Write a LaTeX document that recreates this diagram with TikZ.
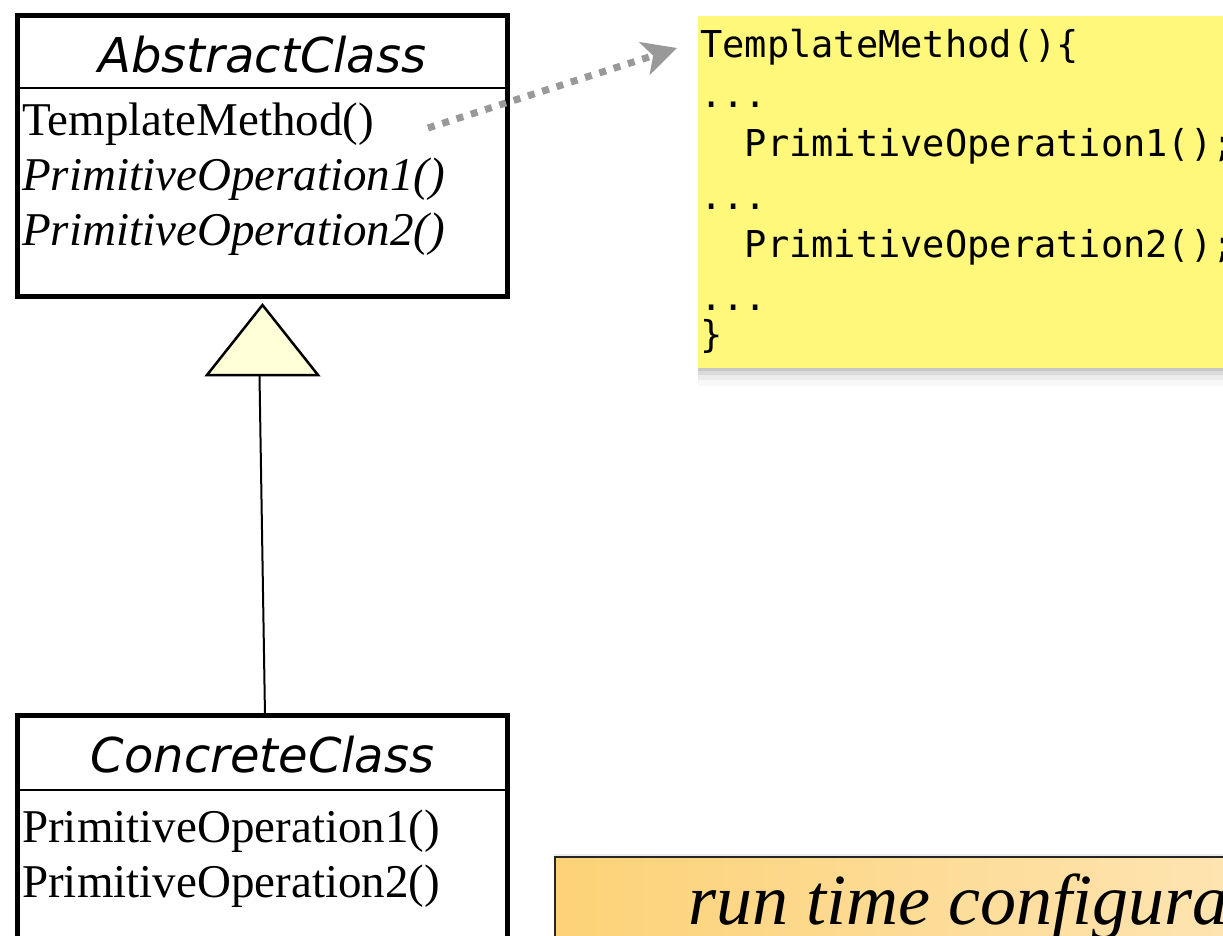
\documentclass[tikz,border=0pt]{standalone}
\usepackage{fontspec}
\setmainfont{Liberation Serif}
\newfontfamily\umlsans{DejaVu Sans}
\newfontfamily\umlmono{DejaVu Sans Mono}
\usetikzlibrary{arrows.meta,positioning,shadows}

\definecolor{noteyellow}{HTML}{FFF87A}
\definecolor{genyellow}{HTML}{FFFFD8}
\definecolor{callgray}{HTML}{999999}
\definecolor{bannerleft}{HTML}{FDD277}
\definecolor{bannerright}{HTML}{FEEAC4}

\newcommand{\codedots}{...}

\begin{document}
\begin{tikzpicture}[x=1pt,y=-1pt,
    class box/.style={draw,line width=5pt,inner sep=0pt,outer sep=0pt,minimum width=490pt,minimum height=281pt},
    class name/.style={font=\umlsans\itshape\fontsize{48}{48}\selectfont,inner sep=0pt},
    op/.style={font=\fontsize{47}{47}\selectfont,inner sep=0pt,anchor=base west},
    note/.style={fill=noteyellow,inner sep=0pt,outer sep=0pt,minimum width=600pt,minimum height=352pt,
        drop shadow={shadow xshift=0pt,shadow yshift=-3pt,opacity=.22},
        drop shadow={shadow xshift=0pt,shadow yshift=-7pt,opacity=.16},
        drop shadow={shadow xshift=0pt,shadow yshift=-12pt,opacity=.10},
        drop shadow={shadow xshift=0pt,shadow yshift=-18pt,opacity=.05}},
    codeline/.style={font=\umlmono\fontsize{37}{37}\selectfont,inner sep=0pt,anchor=base west},
    call/.style={callgray,line width=7pt,dash pattern=on 7pt off 8pt,-{Stealth[length=34pt,width=34pt,inset=9pt]}},
    generalization/.style={draw,line width=2.5pt,fill=genyellow,line join=miter},
    inherit/.style={draw,line width=2pt},
    banner/.style={draw=black!85,line width=2pt,left color=bannerleft,right color=bannerright,inner sep=0pt,outer sep=0pt,
        minimum width=900pt,minimum height=160pt,drop shadow={shadow xshift=-1pt,shadow yshift=3pt,opacity=.15}}]

    \useasboundingbox (0,0) rectangle (1223,935);
    \fill[white] (0,0) rectangle (1223,935);
    \clip (0,0) rectangle (1223,935);

    % abstract class
    \node[class box] (abstract) at (262.5,156) {};
    \node[class name, below=56.5pt of abstract.north, anchor=base] (abstractname) {AbstractClass};
    \draw[line width=2pt] ([yshift=-72.5pt]abstract.north west) -- ([yshift=-72.5pt]abstract.north east);
    \node[op] (templ) at ([xshift=4.5pt,yshift=-119.5pt]abstract.north west) {TemplateMethod()};
    \node[op, below=55pt of templ.base west, anchor=base west] (prim1) {\itshape PrimitiveOperation1()};
    \node[op, below=55pt of prim1.base west, anchor=base west] (prim2) {\itshape PrimitiveOperation2()};

    % generalization
    \coordinate (genapex) at ([yshift=-8.5pt]abstract.south);
    \coordinate (genleft) at ([xshift=-55.5pt,yshift=-70pt]genapex);
    \coordinate (genright) at ([xshift=55.5pt,yshift=-70pt]genapex);
    \coordinate (genbase) at ([xshift=-3pt,yshift=-71pt]genapex);
    \draw[generalization] (genapex) -- (genleft) -- (genright) -- cycle;

    % concrete class
    \node[class box] (concrete) at (262.5,856) {};
    \node[class name, below=56.5pt of concrete.north, anchor=base] (concretename) {ConcreteClass};
    \draw[line width=2pt] ([yshift=-74.5pt]concrete.north west) -- ([yshift=-74.5pt]concrete.north east);
    \node[op] (cprim1) at ([xshift=4.5pt,yshift=-126.5pt]concrete.north west) {PrimitiveOperation1()};
    \node[op, below=55pt of cprim1.base west, anchor=base west] (cprim2) {PrimitiveOperation2()};
    \draw[inherit] ([xshift=2.5pt]concrete.north) -- (genbase);

    % note with the template method body
    \node[note, anchor=north west] (note) at (698,16) {};
    \foreach \y/\txt [count=\i] in {57/TemplateMethod()\{, 107/\codedots, 156/\phantom{xx}PrimitiveOperation1();,
        209/\codedots, 257/\phantom{xx}PrimitiveOperation2();, 310/\codedots, 347/\}}
        \node[codeline] (line\i) at (700,\y) {\txt};

    \coordinate (callfrom) at (428,128);
    \coordinate (callto) at (677,48);
    \draw[call] (callfrom) -- (callto);

    % banner
    \node[banner, anchor=north west] (banner) at (555,857) {};
    \node[font=\itshape\fontsize{72}{72}\selectfont, inner sep=0pt, anchor=base west] (runtime) at (688,924) {run time configuration};

\end{tikzpicture}
\end{document}
